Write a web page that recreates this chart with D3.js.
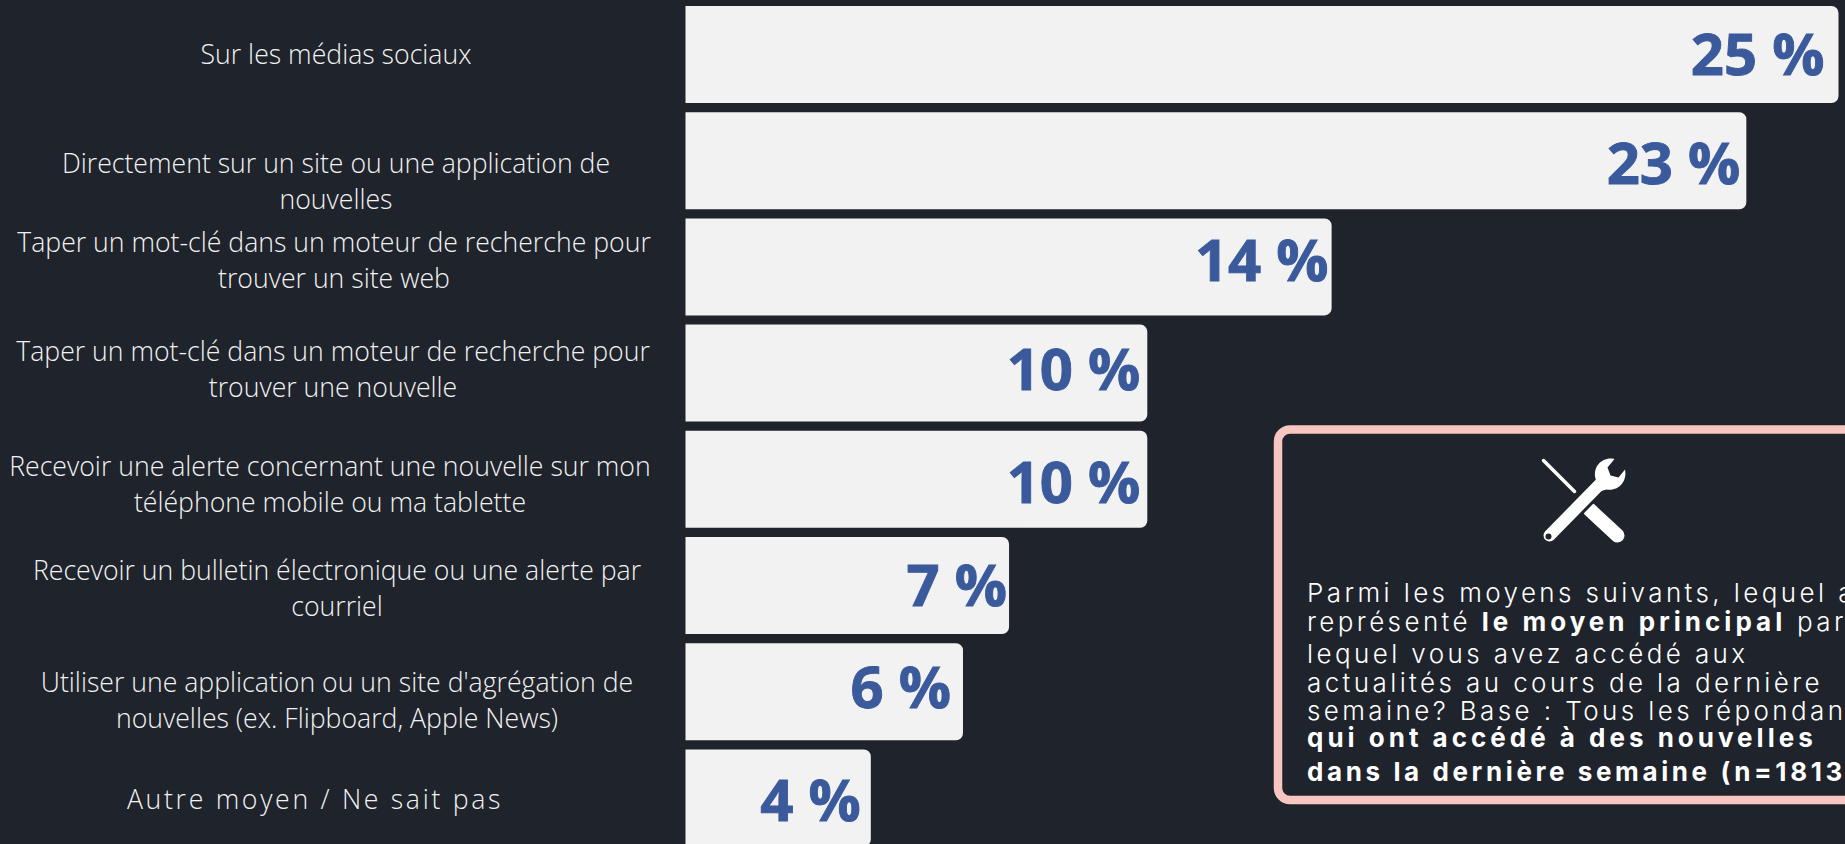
<!DOCTYPE html>
<html><head><meta charset="utf-8">
<script src="https://cdnjs.cloudflare.com/ajax/libs/d3/7.8.5/d3.min.js"></script>
<style>html,body{margin:0;padding:0;background:#1f232b;overflow:hidden}svg{display:block}</style>
</head><body><svg id="c" width="1845" height="844"></svg>
<script>
const categories = [
  ["Sur les médias sociaux"],
  ["Directement sur un site ou une application de","nouvelles"],
  ["Taper un mot-clé dans un moteur de recherche pour","trouver un site web"],
  ["Taper un mot-clé dans un moteur de recherche pour","trouver une nouvelle"],
  ["Recevoir une alerte concernant une nouvelle sur mon","téléphone mobile ou ma tablette"],
  ["Recevoir un bulletin électronique ou une alerte par","courriel"],
  ["Utiliser une application ou un site d'agrégation de","nouvelles (ex. Flipboard, Apple News)"],
  ["Autre moyen / Ne sait pas"]
];
const values = [25,23,14,10,10,7,6,4];
// layout nudges, separate from the data
const labelCx = [336,336,334,333,330,337,337,315];
const labelBase = [64,173,252,361,476,580,692,809];
const valueGap = [14,6,3,7,7,2,12,10];
const valueBase = [75,184,281,390,503,606,708,821];
const noteLines = [
  [["Parmi les moyens suivants, lequel a",300]],
  [["représenté ",300],["le moyen principal",700],[" par",300]],
  [["lequel vous avez accédé aux",300]],
  [["actualités au cours de la dernière",300]],
  [["semaine? Base : Tous les répondants",300]],
  [["qui ont accédé à des nouvelles",700]],
  [["dans la dernière semaine (n=1813)",700]]
];
const noteBase = [601.5,630.5,662.5,691.5,719.5,746.5,781];
const noteBoldSpacing = [4,4,4,4,4,4,3.6];

const svg = d3.select("#c");
const x = d3.scaleLinear().domain([0,25]).range([686.5,1838.5]);
const y = d3.scaleBand().domain(d3.range(values.length)).range([6,846.4]).paddingInner(9.2/106.2);
const r = 7;

svg.selectAll("path.bar").data(values).join("path").attr("class","bar")
  .attr("fill","#f2f2f2")
  .attr("d",(d,i)=>{const p=d3.path(),x0=x(0)-1,x1=x(d),t=y(i),b=t+y.bandwidth();
    p.moveTo(x0,t);p.lineTo(x1-r,t);p.arcTo(x1,t,x1,t+r,r);p.lineTo(x1,b-r);p.arcTo(x1,b,x1-r,b,r);p.lineTo(x0,b);p.closePath();return p.toString();});

svg.selectAll("text.val").data(values).join("text").attr("class","val")
  .attr("x",(d,i)=>x(d)-valueGap[i]).attr("y",(d,i)=>valueBase[i])
  .attr("text-anchor","end").attr("fill","#3a5a9c")
  .attr("stroke","#3a5a9c").attr("stroke-width",0.9)
  .style("font","700 58px 'Open Sans'").text(d=>d+" %");

const lab = svg.selectAll("text.lab").data(categories).join("text").attr("class","lab")
  .attr("text-anchor","middle").attr("fill","#f2f2f2")
  .style("font","300 26.65px 'Open Sans'")
  .style("letter-spacing",(d,i)=>i===7?"2.7px":"0");
lab.each(function(lines,i){
  d3.select(this).selectAll("tspan").data(lines).join("tspan")
    .attr("x",labelCx[i]).attr("y",(d,j)=>labelBase[i]+j*35.5).text(d=>d);
});

// note box
svg.append("rect").attr("x",1278).attr("y",429.5).attr("width",640).attr("height",370.5).attr("rx",12)
  .attr("fill","#1f232b").attr("stroke","#f7c6c2").attr("stroke-width",8.5);

// tools icon
const ic = svg.append("g").attr("transform","translate(1583.5,500.5)");
const W="#ffffff", B="#1f232b";
ic.append("line").attr("x1",-40).attr("y1",-40).attr("x2",-9).attr("y2",-9).attr("stroke",W).attr("stroke-width",3.5).attr("stroke-linecap","round");
ic.append("line").attr("x1",6).attr("y1",9).attr("x2",34).attr("y2",35).attr("stroke",W).attr("stroke-width",14).attr("stroke-linecap","round");
ic.append("line").attr("x1",-35).attr("y1",36).attr("x2",18).attr("y2",-18).attr("stroke",B).attr("stroke-width",18);
ic.append("line").attr("x1",-34).attr("y1",35).attr("x2",18).attr("y2",-18).attr("stroke",W).attr("stroke-width",12).attr("stroke-linecap","round");
ic.append("path").attr("fill",W).attr("d","M12,-22 C9,-34 19,-44 31,-41.5 L24,-33 L27,-25 L35,-23 L41.5,-31 C44,-19 35,-9 23,-11 L16,-9 Z");
ic.append("circle").attr("cx",-35).attr("cy",36).attr("r",3).attr("fill",B);

const note = svg.selectAll("text.note").data(noteLines).join("text").attr("class","note")
  .attr("x",1307).attr("y",(d,i)=>noteBase[i]).attr("fill","#fff")
  .style("font","300 26px Inter").style("letter-spacing","3.4px");
note.each(function(parts,i){
  d3.select(this).selectAll("tspan").data(parts).join("tspan")
    .style("font-weight",d=>d[1]).style("letter-spacing",d=>d[1]===700?noteBoldSpacing[i]+"px":"3.4px")
    .style("white-space","pre").text(d=>d[0]);
});
</script></body></html>
